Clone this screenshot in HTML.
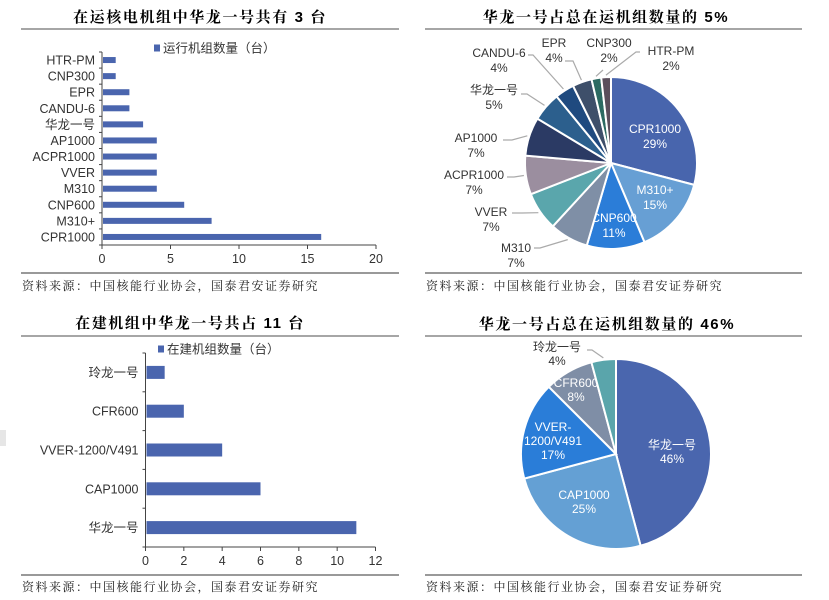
<!DOCTYPE html>
<html><head><meta charset="utf-8"><style>
html,body{margin:0;padding:0;background:#fff;}
svg{display:block;font-family:"Liberation Sans","Noto Sans CJK SC",sans-serif;}
.title{font-weight:bold;font-size:15px;fill:#000;letter-spacing:1.6px;font-family:"Liberation Sans","Noto Serif CJK SC",serif;}
.src{font-size:12px;fill:#222;letter-spacing:1.5px;font-family:"Liberation Serif","Noto Serif CJK SC",serif;}
.lbl{font-size:12px;fill:#333;}
.wl{font-size:12px;fill:#fff;}
</style></head><body>
<svg id="root" width="829" height="600" viewBox="0 0 829 600">
<rect x="0" y="430" width="6" height="16" fill="#e6e6e6"/>
<text class="title" x="200" y="22" text-anchor="middle">在运核电机组中华龙一号共有 3 台</text>
<text class="title" x="606" y="22" text-anchor="middle">华龙一号占总在运机组数量的 5%</text>
<text class="title" x="190" y="328" text-anchor="middle">在建机组中华龙一号共占 11 台</text>
<text class="title" x="607" y="329" text-anchor="middle">华龙一号占总在运机组数量的 46%</text>
<g stroke="#888" stroke-width="1.5">
<line x1="21" y1="29" x2="399" y2="29"/>
<line x1="425" y1="29" x2="802" y2="29"/>
<line x1="21" y1="336" x2="399" y2="336"/>
<line x1="425" y1="336" x2="802" y2="336"/>
</g>
<g stroke="#333" stroke-width="1">
<line x1="21" y1="273" x2="399" y2="273"/>
<line x1="425" y1="273" x2="802" y2="273"/>
<line x1="21" y1="575" x2="399" y2="575"/>
<line x1="425" y1="575" x2="802" y2="575"/>
</g>
<text class="src" x="22" y="290">资料来源：中国核能行业协会，国泰君安证券研究</text>
<text class="src" x="426" y="290">资料来源：中国核能行业协会，国泰君安证券研究</text>
<text class="src" x="22" y="591">资料来源：中国核能行业协会，国泰君安证券研究</text>
<text class="src" x="426" y="591">资料来源：中国核能行业协会，国泰君安证券研究</text>
<g id="c1"></g>
<g id="c2"></g>
<g id="c3"></g>
<g id="c4"></g>
</svg>
<script>
const opCategories = ["HTR-PM","CNP300","EPR","CANDU-6","华龙一号","AP1000","ACPR1000","VVER","M310","CNP600","M310+","CPR1000"];
const opValues = [1,1,2,2,3,4,4,4,4,6,8,16];
const opTicks = [0,5,10,15,20];
const pie1Labels = ["CPR1000","M310+","CNP600","M310","VVER","ACPR1000","AP1000","华龙一号","CANDU-6","EPR","CNP300","HTR-PM"];
const pie1Values = [16,8,6,4,4,4,4,3,2,2,1,1];
const pie1Colors = ["#4865ad","#679fd4","#2b7dd8","#7f8fa6","#5aa6ac","#9b8e9f","#2b3a64","#2c5f8d","#1f4a7f","#3e4f6a","#2c6a62","#5b4e5c"];
const conCategories = ["玲龙一号","CFR600","VVER-1200/V491","CAP1000","华龙一号"];
const conValues = [1,2,4,6,11];
const conTicks = [0,2,4,6,8,10,12];
const pie2Labels = ["华龙一号","CAP1000","VVER-1200/V491","CFR600","玲龙一号"];
const pie2Values = [11,6,4,2,1];
const pie2Colors = ["#4a66ae","#64a0d4","#2a7dd8","#7f8ea6","#5aa5ab"];

const NS="http://www.w3.org/2000/svg";
function mk(parent,tag,attrs,text){const e=document.createElementNS(NS,tag);for(const k in attrs)e.setAttribute(k,attrs[k]);if(text!==undefined)e.textContent=text;parent.appendChild(e);return e;}

function barChart(g,cats,vals,ticks,cfg,prefix){
  const xMax=ticks[ticks.length-1];
  const xs=v=>cfg.x0+(v/xMax)*(cfg.x1-cfg.x0);
  const n=cats.length, step=(cfg.yBot-cfg.yTop)/n;
  const yc=i=>cfg.yTop+step*(i+0.5);
  const ax=mk(g,"line",{x1:cfg.x0,y1:cfg.yTop,x2:cfg.x0,y2:cfg.yBot,stroke:"#444","stroke-width":1});
  
  
  const bx=mk(g,"line",{x1:cfg.x0,y1:cfg.yBot,x2:cfg.x1,y2:cfg.yBot,stroke:"#444","stroke-width":1});
  
  
  for(let i=0;i<=n;i++){const t=mk(g,"line",{x1:cfg.x0-3,x2:cfg.x0,y1:cfg.yTop+step*i,y2:cfg.yTop+step*i,stroke:"#444"});
    
    }
  ticks.forEach(v=>{const x=xs(v);
    const t=mk(g,"line",{x1:x,x2:x,y1:cfg.yBot,y2:cfg.yBot+4,stroke:"#444"});
    
    
    const l=mk(g,"text",{x:x,y:cfg.yBot+18,"text-anchor":"middle","font-size":12.5,fill:"#333"},String(v));
    
    });
  cats.forEach((c,i)=>{
    const r=mk(g,"rect",{x:cfg.x0+1,y:yc(i)-cfg.bh/2,width:xs(vals[i])-cfg.x0-1,height:cfg.bh,fill:"#4a65ae"});
    
    
    const l=mk(g,"text",{x:cfg.x0-7,y:yc(i)+4.5,"text-anchor":"end","font-size":12.5,fill:"#333"},c);
    
    
  });
  const ls=mk(g,"rect",{x:cfg.legX,y:cfg.legY-3.5,width:6,height:7,fill:"#4a65ae"});
  
  
  const lt=mk(g,"text",{x:cfg.legX+9,y:cfg.legY+4.5,"font-size":12.5,fill:"#333"},cfg.legText);
  
  
}

function pieChart(g,labels,vals,colors,cfg,prefix){
  const tot=vals.reduce((a,b)=>a+b,0);
  let a0=0;
  labels.forEach((lab,i)=>{
    const a1=a0+vals[i]/tot*2*Math.PI;
    const p=a=>[cfg.cx+cfg.r*Math.sin(a),cfg.cy-cfg.r*Math.cos(a)];
    const [x0,y0]=p(a0),[x1,y1]=p(a1);
    const large=(a1-a0)>Math.PI?1:0;
    const s=mk(g,"path",{d:`M${cfg.cx},${cfg.cy}L${x0},${y0}A${cfg.r},${cfg.r} 0 ${large} 1 ${x1},${y1}Z`,fill:colors[i],stroke:"#fff","stroke-width":2});
    
    
    const pos=cfg.labelPos[i];
    const pct=Math.round(vals[i]/tot*100)+"%";
    const lines=(cfg.split[lab]||[lab]).concat([pct]);
    const lt=mk(g,"text",{"text-anchor":"middle",class:pos.inside?"wl":"lbl"});
    
    
    lines.forEach((ln,k)=>{mk(lt,"tspan",{x:pos.x,y:pos.y+4+k*cfg.lh},ln);});
    if(pos.lx!==undefined){
      const am=(a0+a1)/2;
      const ex=cfg.cx+(cfg.r+2)*Math.sin(am), ey=cfg.cy-(cfg.r+2)*Math.cos(am);
      const ll=mk(g,"polyline",{points:`${pos.lx},${pos.ly} ${pos.mx},${pos.ly} ${ex},${ey}`,fill:"none",stroke:"#aaa","stroke-width":1.2});
      
      
    }
    a0=a1;
  });
}

barChart(document.getElementById("c1"),opCategories,opValues,opTicks,
  {x0:102,x1:376,yTop:52,yBot:245,bh:6,legX:154,legY:48,legText:"运行机组数量（台）"},"operating");
barChart(document.getElementById("c3"),conCategories,conValues,conTicks,
  {x0:145.5,x1:375.5,yTop:353,yBot:547,bh:13,legX:158,legY:349,legText:"在建机组数量（台）"},"construction");

pieChart(document.getElementById("c2"),pie1Labels,pie1Values,pie1Colors,
  {cx:611,cy:163,r:86,lh:15,split:{},labelPos:[
    {x:655,y:129,inside:true},{x:655,y:190,inside:true},{x:614,y:218,inside:true},
    {x:516,y:248,lx:534,mx:540,ly:248},{x:491,y:212,lx:512,mx:522,ly:213},
    {x:474,y:175,lx:507,mx:514,ly:177},{x:476,y:138,lx:503,mx:512,ly:140},
    {x:494,y:90,lx:521,mx:527,ly:94},{x:499,y:53,lx:528,mx:533,ly:55},
    {x:554,y:43,lx:565,mx:573,ly:61},{x:609,y:43,lx:603,mx:603,ly:70},
    {x:671,y:51,lx:640,mx:636,ly:52}]},"operating-pie");
pieChart(document.getElementById("c4"),pie2Labels,pie2Values,pie2Colors,
  {cx:616,cy:454,r:95,lh:14,split:{"VVER-1200/V491":["VVER-","1200/V491"]},labelPos:[
    {x:672,y:445,inside:true},{x:584,y:495,inside:true},{x:553,y:427,inside:true},
    {x:576,y:383,inside:true},{x:557,y:347,lx:587,mx:592,ly:350}]},"construction-pie");
</script>
</body></html>
